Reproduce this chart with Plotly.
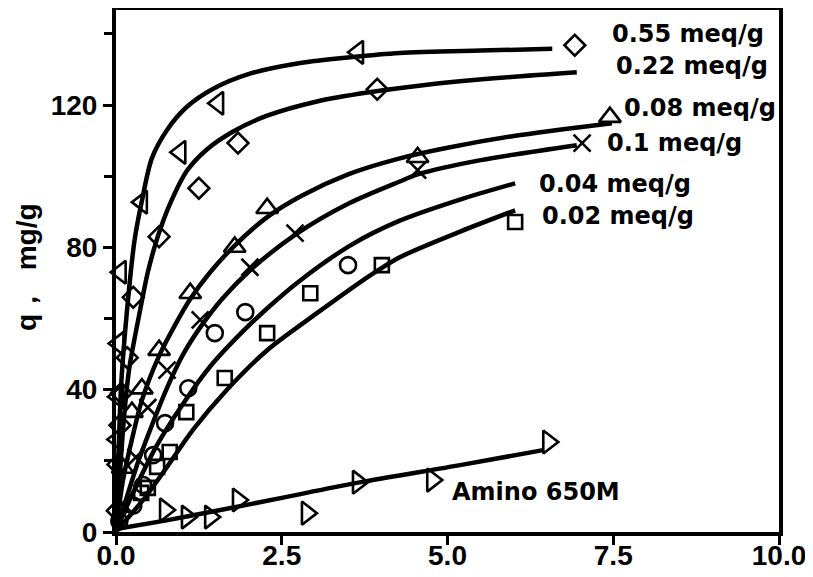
import plotly.graph_objects as go

# ---- marker data ----
x_055 = [0.02, 0.03, 0.04, 0.07, 0.39, 0.97, 1.54, 3.65]
y_055 = [26, 38, 53, 73, 92.7, 106.7, 120.5, 134.8]

x_022 = [0.02, 0.03, 0.06, 0.08, 0.17, 0.26, 0.65, 1.25, 1.84, 3.94, 6.92]
y_022 = [6, 19, 30, 39, 49, 66, 83, 96.6, 109.3, 124.4, 136.8]

x_008 = [0.1, 0.24, 0.39, 0.65, 1.12, 1.79, 2.28, 4.55, 7.45]
y_008 = [18, 33.7, 40.3, 51.1, 67.1, 80.1, 91.0, 105.3, 116.6]

x_010 = [0.1, 0.3, 0.48, 0.77, 1.27, 2.02, 2.70, 4.55, 7.03]
y_010 = [8, 21, 35, 45.5, 59.6, 74.4, 84.0, 101.7, 109.3]

x_004 = [0.05, 0.26, 0.41, 0.56, 0.74, 1.09, 1.49, 1.95, 3.50]
y_004 = [3, 7.4, 13.2, 21.6, 30.6, 40.4, 55.9, 61.8, 75.0]

x_002 = [0.38, 0.48, 0.62, 0.81, 1.06, 1.64, 2.28, 2.93, 4.01, 6.02]
y_002 = [11, 12.4, 18.3, 22.5, 33.7, 43.3, 55.9, 67.1, 75.0, 87.1]

x_am = [0.74, 1.07, 1.42, 1.84, 2.88, 3.65, 4.77, 6.52]
y_am = [6.2, 4.2, 4.2, 9.0, 5.3, 14.0, 14.6, 25.3]

# ---- fitted curves ----
cx_055 = [0, 0.03, 0.08, 0.18, 0.28, 0.39, 0.54, 0.77, 1.07, 1.46, 2.02, 2.78, 3.53, 4.28, 5.5, 6.58]
cy_055 = [0, 18, 42, 65, 82, 93, 105, 113, 119.5, 124.5, 128.8, 131.8, 133.4, 134.6, 135.3, 135.8]

cx_022 = [0, 0.05, 0.12, 0.2, 0.36, 0.48, 0.63, 0.81, 1.07, 1.37, 1.76, 2.28, 3.03, 3.79, 4.6, 5.7, 6.95]
cy_022 = [0, 14, 32, 46, 62, 73, 83, 92, 101.5, 107.5, 112.5, 117, 121, 123.5, 125.5, 127.5, 129.2]

cx_008 = [0, 0.1, 0.24, 0.39, 0.65, 0.9, 1.12, 1.42, 1.79, 2.28, 2.8, 3.5, 4.28, 5.0, 6.0, 7.48]
cy_008 = [0, 14, 26, 37, 49.5, 58.5, 65.5, 73, 80.5, 88.5, 94.5, 100.5, 105, 108, 111.3, 114.9]

cx_010 = [0, 0.15, 0.33, 0.5, 0.77, 1.0, 1.27, 1.6, 2.02, 2.7, 3.53, 4.28, 4.55, 5.5, 6.95]
cy_010 = [0, 9, 19.5, 28, 40.5, 49.5, 57.5, 65.5, 73.5, 83.5, 92.5, 98.5, 100.5, 104.5, 108.7]

cx_004 = [0, 0.11, 0.32, 0.62, 1.01, 1.42, 1.92, 2.32, 2.73, 3.53, 4.28, 5.2, 6.02]
cy_004 = [0, 5, 13.5, 24.5, 36, 46.5, 56.5, 63.5, 70, 80.5, 87.5, 93.5, 98]

cx_002 = [0, 0.11, 0.41, 0.77, 1.16, 1.67, 2.28, 3.03, 3.73, 4.28, 5.2, 6.02]
cy_002 = [0, 2.5, 9, 18.3, 28.7, 39.9, 51.1, 61.5, 70.8, 77.2, 84.5, 90.4]

cx_am = [0, 0.74, 1.42, 2.5, 3.63, 5.19, 6.44]
cy_am = [0.8, 3.2, 5.6, 9.6, 13.8, 18.8, 23.0]

# ---- labels ----
labels = ["0.55 meq/g", "0.22 meq/g", "0.08 meq/g", "0.1 meq/g",
          "0.04 meq/g", "0.02 meq/g", "Amino 650M"]
label_x = [7.45, 7.51, 7.63, 7.38, 6.35, 6.40, 5.04]
label_y = [140.0, 131.0, 119.2, 109.3, 97.8, 88.8, 11.2]
y_title = "q，  mg/g"

x_ticks = [0, 2.5, 5.0, 7.5, 10.0]
x_ticktext = ["0.0", "2.5", "5.0", "7.5", "10.0"]
y_ticks = [0, 40, 80, 120]
y_minor = [20, 60, 100, 140]

fig = go.Figure()

curves = [(cx_055, cy_055), (cx_022, cy_022), (cx_008, cy_008), (cx_010, cy_010),
          (cx_004, cy_004), (cx_002, cy_002), (cx_am, cy_am)]
for cx, cy in curves:
    fig.add_trace(go.Scatter(x=cx, y=cy, mode="lines",
                             line=dict(color="black", width=4.5, shape="spline", smoothing=0.8),
                             showlegend=False, hoverinfo="skip"))

markers = [
    (x_055, y_055, "triangle-left-open", 20),
    (x_022, y_022, "diamond-open", 16),
    (x_008, y_008, "triangle-up-open", 19),
    (x_010, y_010, "x-thin-open", 17),
    (x_004, y_004, "circle-open", 16),
    (x_002, y_002, "square-open", 14),
    (x_am, y_am, "triangle-right-open", 20),
]
for mx, my, sym, sz in markers:
    fig.add_trace(go.Scatter(x=mx, y=my, mode="markers", cliponaxis=False,
                             marker=dict(symbol=sym, size=sz, color="black",
                                         line=dict(color="black", width=2.6)),
                             showlegend=False))

for t, lx, ly in zip(labels, label_x, label_y):
    fig.add_annotation(x=lx, y=ly, xref="x", yref="y", text=t, showarrow=False,
                       xanchor="left", yanchor="middle",
                       font=dict(family="DejaVu Sans", size=24, color="black", weight="bold"))

fig.add_annotation(x=-0.134, y=0.508, xref="paper", yref="paper", text=y_title,
                   showarrow=False, textangle=-90, xanchor="center", yanchor="middle",
                   font=dict(family="Liberation Sans", size=28, color="black", weight="bold"))

tick_font = dict(family="Liberation Sans", size=28, color="black", weight="bold")

# page body has an 8px margin, so the figure is sized and offset accordingly
fig.update_layout(
    width=805, height=569,
    margin=dict(l=108, r=34, t=2, b=45),
    paper_bgcolor="white", plot_bgcolor="white",
    xaxis=dict(range=[0, 10], tickvals=x_ticks, ticktext=x_ticktext, automargin=False,
               showline=True, linewidth=4, linecolor="black", mirror=True,
               ticks="outside", ticklen=9, tickwidth=3, tickcolor="black",
               ticklabelstandoff=-14,
               showgrid=False, zeroline=False, tickfont=tick_font),
    yaxis=dict(range=[0, 146.7], tickvals=y_ticks, automargin=False,
               showline=True, linewidth=4, linecolor="black", mirror=True,
               ticks="outside", ticklen=9, tickwidth=3, tickcolor="black",
               minor=dict(tickvals=y_minor, ticks="outside", ticklen=8,
                          tickwidth=3, tickcolor="black", showgrid=False),
               showgrid=False, zeroline=False, tickfont=tick_font),
)

fig.write_html("out.html")
